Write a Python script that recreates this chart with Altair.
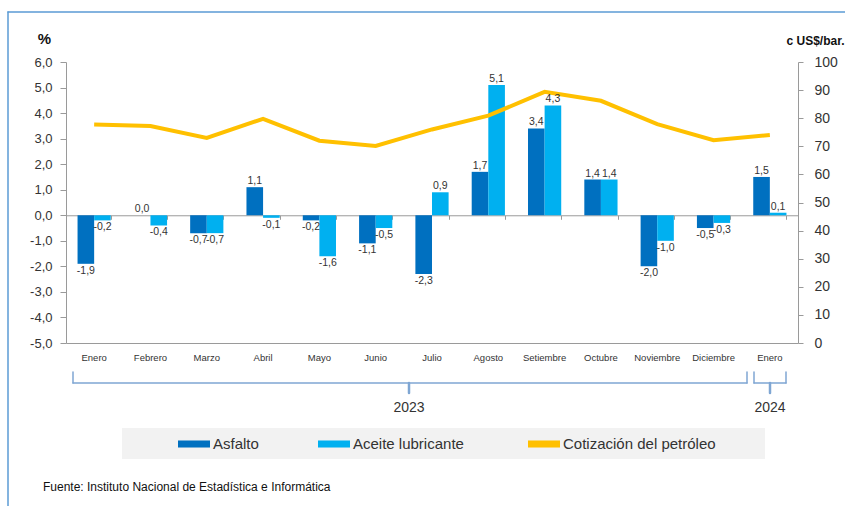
import altair as alt
import pandas as pd

# ---------------- data ----------------
meses = ["Enero", "Febrero", "Marzo", "Abril", "Mayo", "Junio", "Julio",
         "Agosto", "Setiembre", "Octubre", "Noviembre", "Diciembre", "Enero"]
anios = ["2023"] * 12 + ["2024"]
asfalto = [-1.9, 0.0, -0.7, 1.1, -0.2, -1.1, -2.3, 1.7, 3.4, 1.4, -2.0, -0.5, 1.5]
aceite = [-0.2, -0.4, -0.7, -0.1, -1.6, -0.5, 0.9, 5.1, 4.3, 1.4, -1.0, -0.3, 0.1]
petroleo = [77.8, 77.2, 73.0, 79.8, 72.0, 70.1, 76.0, 80.9, 89.4, 86.2, 77.9, 72.2, 74.0]
series_barras = ["Asfalto", "Aceite  lubricante"]
serie_linea = "Cotización del petróleo"
ticks_izq = list(range(-5, 7))
ticks_der = list(range(0, 101, 10))
titulo_izq = "%"
titulo_der = "c US$/bar."
anios_etiquetas = ["2023", "2024"]
fuente = "Fuente: Instituto Nacional de Estadística e Informática"

# ---------------- styles ----------------
FONT = "Liberation Sans"
COLORES = ["#0070C0", "#00B0F0", "#FFC000"]
GRIS = "#9A9A9A"
TXT = "#333333"
AZUL_MARCO = "#5B9BD5"
AZUL_LLAVE = "#7FA6D3"
W, H = 732, 281

claves = [f"{m}|{a}" for m, a in zip(meses, anios)]
rows = []
for k, a, b in zip(claves, asfalto, aceite):
    for s, v in zip(series_barras, (a, b)):
        rows.append({"clave": k, "serie": s, "valor": v,
                     "etiqueta": f"{v:.1f}".replace(".", ",")})
barras_df = pd.DataFrame(rows)
linea_df = pd.DataFrame({"clave": claves, "serie": serie_linea, "valor": petroleo})
uno = pd.DataFrame({"u": [0]})

x_scale = alt.Scale(domain=claves, paddingInner=0.41, paddingOuter=0.205)
xo_scale = alt.Scale(domain=series_barras, paddingInner=0, paddingOuter=0)
y_scale = alt.Scale(domain=[ticks_izq[0], ticks_izq[-1]], nice=False, zero=False)
y2_scale = alt.Scale(domain=[ticks_der[0], ticks_der[-1]], nice=False)
color_scale = alt.Scale(domain=series_barras + [serie_linea], range=COLORES)

zero_off = -H * (0 - ticks_izq[0]) / (ticks_izq[-1] - ticks_izq[0])

RECT_SYM = "M-1,-0.22H1V0.22H-1Z"

leyenda = alt.Legend(
    title=None, orient="none", legendX=112, legendY=366, direction="horizontal",
    symbolType=RECT_SYM, symbolSize=1024, symbolStrokeWidth=0,
    labelFontSize=15, labelColor=TXT, labelFont=FONT, labelOffset=3,
    columnPadding=59, padding=0,
)

bars = alt.Chart(barras_df).mark_bar().encode(
    x=alt.X("clave:N", scale=x_scale, title=None,
            axis=alt.Axis(orient="bottom", offset=zero_off, labels=False, ticks=True,
                          tickBand="extent", tickSize=4, tickColor=GRIS,
                          domainColor=GRIS, title=None, grid=False)),
    xOffset=alt.XOffset("serie:N", scale=xo_scale),
    y=alt.Y("valor:Q", scale=y_scale, stack=False,
            axis=alt.Axis(orient="left", values=ticks_izq, labelExpr="datum.value + ',0'",
                          grid=False, tickSize=6, tickColor=GRIS, domainColor=GRIS,
                          labelPadding=8, labelFontSize=13, labelColor=TXT,
                          title=titulo_izq, titleAngle=0, titleX=-22, titleY=-24,
                          titleAlign="center", titleBaseline="middle",
                          titleFontSize=15, titleFontWeight="bold", titleColor="#111111")),
    color=alt.Color("serie:N", scale=color_scale, legend=leyenda),
)

linea = alt.Chart(linea_df).mark_line(strokeWidth=4).encode(
    x=alt.X("clave:N", scale=x_scale, title=None,
            axis=alt.Axis(orient="bottom", labelExpr="split(datum.value, '|')[0]",
                          ticks=False, tickSize=0, labelPadding=9, labelFontSize=9.5,
                          labelColor=TXT, labelAngle=0, domainColor=GRIS, grid=False,
                          title=None)),
    y=alt.Y("valor:Q", scale=y2_scale,
            axis=alt.Axis(orient="right", values=ticks_der, format="d", grid=False,
                          tickSize=5, tickColor=GRIS, domainColor=GRIS,
                          labelPadding=11, labelFontSize=14, labelColor=TXT,
                          title=titulo_der, titleAngle=0, titleX=-12, titleY=-22,
                          titleAlign="left", titleBaseline="middle",
                          titleFontSize=12, titleFontWeight="bold", titleColor="#111111")),
    color=alt.Color("serie:N", scale=color_scale),
)

txt_base = alt.Chart(barras_df).encode(
    x=alt.X("clave:N", scale=x_scale, axis=None),
    xOffset=alt.XOffset("serie:N", scale=xo_scale),
    y=alt.Y("valor:Q", scale=y_scale, axis=None),
    text="etiqueta:N",
)
txt_pos = txt_base.mark_text(baseline="bottom", dy=-1, fontSize=10.5, color=TXT,
                             font=FONT).transform_filter("datum.valor >= 0")
txt_neg = txt_base.mark_text(baseline="top", dy=2, fontSize=10.5, color=TXT,
                             font=FONT).transform_filter("datum.valor < 0")


def regla(x1, y1, x2=None, y2=None, color=AZUL_LLAVE, ancho=1.5):
    enc = {"x": alt.value(x1), "y": alt.value(y1)}
    if x2 is not None:
        enc["x2"] = alt.value(x2)
    if y2 is not None:
        enc["y2"] = alt.value(y2)
    return alt.Chart(uno).mark_rule(color=color, strokeWidth=ancho,
                                    strokeCap="round").encode(**enc)


def texto(t, x, y, size, align="center", color=TXT):
    return alt.Chart(uno).mark_text(align=align, baseline="middle", fontSize=size,
                                    color=color, font=FONT).encode(
        x=alt.value(x), y=alt.value(y), text=alt.value(t))


decor = [
    # frame
    regla(-58, -50, x2=800, color=AZUL_MARCO, ancho=1.5),
    regla(-58, -50, y2=460, color=AZUL_MARCO, ancho=1.5),
    # legend background
    alt.Chart(uno).mark_rect(color="#F2F2F2").encode(
        x=alt.value(56), x2=alt.value(699), y=alt.value(366), y2=alt.value(397)),
    # bracket 2023
    regla(7, 310, y2=321), regla(7, 321, x2=681), regla(681, 310, y2=321),
    regla(343, 321, y2=331, ancho=2.5),
    # bracket 2024
    regla(688, 310, y2=321), regla(688, 321, x2=720), regla(720, 310, y2=321),
    regla(704, 321, y2=331, ancho=2.5),
    texto(anios_etiquetas[0], 343, 346, 14),
    texto(anios_etiquetas[1], 704, 346, 14),
    texto(fuente, -23, 425, 12, align="left", color="#111111"),
]

chart = alt.layer(*decor, bars, linea, txt_pos, txt_neg).resolve_scale(
    y="independent"
).resolve_axis(x="independent").properties(
    width=W, height=H,
    autosize=alt.AutoSizeParams(type="none"),
    padding={"left": 66, "top": 62, "right": 47, "bottom": 163},
    background="white",
).configure(font=FONT).configure_view(strokeWidth=0)

chart.save("out.html", embed_options={"renderer": "svg", "actions": False})
